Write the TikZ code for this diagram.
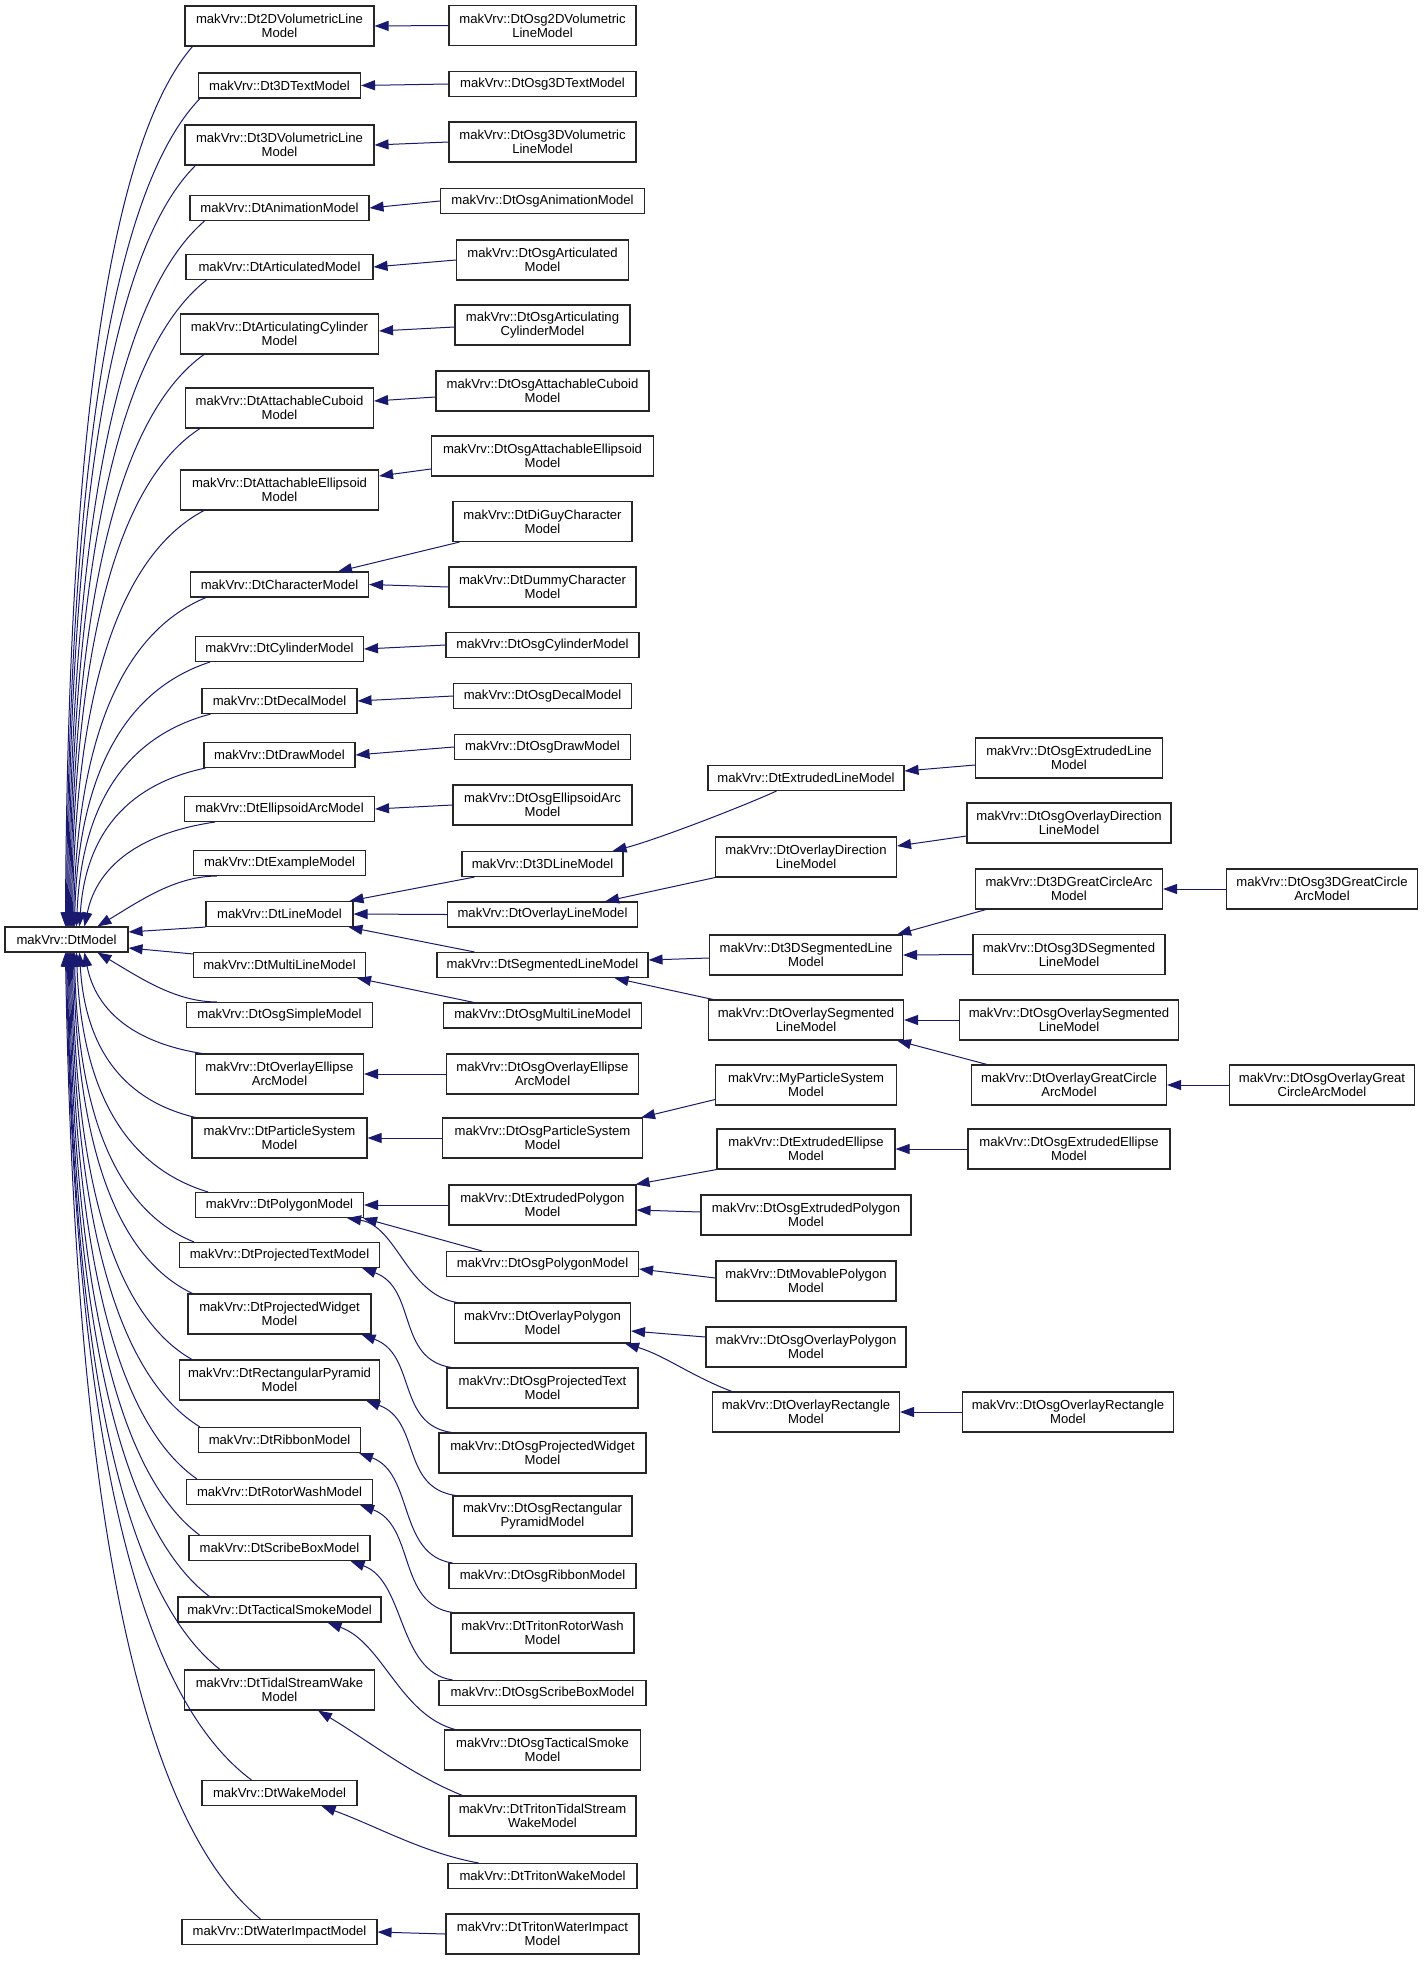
\documentclass[tikz,border=0pt]{standalone}
\usepackage{fontspec}
\setmainfont{Liberation Sans}
\usetikzlibrary{arrows.meta,calc}
\definecolor{edgeblue}{HTML}{191970}
\tikzset{
  cls/.style={draw=black!85, line width=1.1pt, fill=white, inner sep=0pt, align=center,
    font=\fontsize{13.1}{14}\selectfont},
  inh/.style={draw=edgeblue, line width=1pt, {Triangle[length=14pt,width=10pt]}-},
}
\newcommand{\dxnode}[6]{\node[cls, minimum width=#4pt, minimum height=#5pt] (#1) at (#2,#3) {#6};}
\newcommand{\dmlink}[6]{\draw[inh] let \p1=#1, \p2=#2 in (\p1) .. controls ($(\p1)+({#3*(\x2-\x1)},{#4*(\y2-\y1)})$) and ($(\p2)+({-#5*(\x2-\x1)},{-#6*(\y2-\y1)})$) .. (\p2);}
\begin{document}
\begin{tikzpicture}[x=1pt,y=-1pt]
\fill[white] (0,0) rectangle (1424,1961);
\useasboundingbox (0,0) rectangle (1424,1961);
% base
\dxnode{base}{66.5}{939.5}{123}{25}{makVrv::DtModel}
% column 2
\dxnode{c2dvol}{279.5}{26}{189}{40}{makVrv::Dt2DVolumetricLine\\Model}
\dxnode{c3dtext}{279.5}{85.5}{162}{25}{makVrv::Dt3DTextModel}
\dxnode{c3dvol}{279.5}{145}{189}{40}{makVrv::Dt3DVolumetricLine\\Model}
\dxnode{canim}{279.5}{208}{179}{25}{makVrv::DtAnimationModel}
\dxnode{cartd}{279.5}{267}{187}{25}{makVrv::DtArticulatedModel}
\dxnode{cartcyl}{279.5}{334}{198}{40}{makVrv::DtArticulatingCylinder\\Model}
\dxnode{cattcub}{279.5}{408}{188}{40}{makVrv::DtAttachableCuboid\\Model}
\dxnode{cattell}{279.5}{490}{198}{40}{makVrv::DtAttachableEllipsoid\\Model}
\dxnode{cchar}{279.5}{584.5}{178}{25}{makVrv::DtCharacterModel}
\dxnode{ccyl}{279.5}{649}{168}{25}{makVrv::DtCylinderModel}
\dxnode{cdecal}{279.5}{701}{155}{25}{makVrv::DtDecalModel}
\dxnode{cdraw}{279.5}{755}{151}{25}{makVrv::DtDrawModel}
\dxnode{cellarc}{279.5}{809}{190}{25}{makVrv::DtEllipsoidArcModel}
\dxnode{cexample}{279.5}{863}{172}{25}{makVrv::DtExampleModel}
\dxnode{cline}{279.5}{914}{147}{25}{makVrv::DtLineModel}
\dxnode{cmulti}{279.5}{965}{172}{25}{makVrv::DtMultiLineModel}
\dxnode{cosgsimple}{279.5}{1015}{186}{25}{makVrv::DtOsgSimpleModel}
\dxnode{covellarc}{279.5}{1074}{168}{40}{makVrv::DtOverlayEllipse\\ArcModel}
\dxnode{cpart}{279.5}{1138}{175}{40}{makVrv::DtParticleSystem\\Model}
\dxnode{cpoly}{279.5}{1205}{168}{25}{makVrv::DtPolygonModel}
\dxnode{cprojtext}{279.5}{1255}{200}{25}{makVrv::DtProjectedTextModel}
\dxnode{cprojwid}{279.5}{1314}{183}{40}{makVrv::DtProjectedWidget\\Model}
\dxnode{crectpyr}{279.5}{1380}{200}{40}{makVrv::DtRectangularPyramid\\Model}
\dxnode{cribbon}{279.5}{1440}{162}{25}{makVrv::DtRibbonModel}
\dxnode{crotor}{279.5}{1492}{186}{25}{makVrv::DtRotorWashModel}
\dxnode{cscribe}{279.5}{1548}{181}{25}{makVrv::DtScribeBoxModel}
\dxnode{ctact}{279.5}{1609.5}{203}{25}{makVrv::DtTacticalSmokeModel}
\dxnode{ctidal}{279.5}{1690}{190}{40}{makVrv::DtTidalStreamWake\\Model}
\dxnode{cwake}{279.5}{1793}{155}{25}{makVrv::DtWakeModel}
\dxnode{cwater}{279.5}{1932}{195}{25}{makVrv::DtWaterImpactModel}
% column 3
\dxnode{d2dvol}{542.5}{25.5}{187}{40}{makVrv::DtOsg2DVolumetric\\LineModel}
\dxnode{d3dtext}{542.5}{84}{187}{25}{makVrv::DtOsg3DTextModel}
\dxnode{d3dvol}{542.5}{142}{187}{40}{makVrv::DtOsg3DVolumetric\\LineModel}
\dxnode{danim}{542.5}{201}{204}{25}{makVrv::DtOsgAnimationModel}
\dxnode{dartd}{542.5}{260}{172}{40}{makVrv::DtOsgArticulated\\Model}
\dxnode{dartcyl}{542.5}{325}{175}{40}{makVrv::DtOsgArticulating\\CylinderModel}
\dxnode{dattcub}{542.5}{391}{213}{40}{makVrv::DtOsgAttachableCuboid\\Model}
\dxnode{dattell}{542.5}{456}{222}{40}{makVrv::DtOsgAttachableEllipsoid\\Model}
\dxnode{ddiguy}{542.5}{521.5}{179}{40}{makVrv::DtDiGuyCharacter\\Model}
\dxnode{ddummy}{542.5}{587}{187}{40}{makVrv::DtDummyCharacter\\Model}
\dxnode{dcyl}{542.5}{645}{193}{25}{makVrv::DtOsgCylinderModel}
\dxnode{ddecal}{542.5}{696}{178}{25}{makVrv::DtOsgDecalModel}
\dxnode{ddraw}{542.5}{747}{176}{25}{makVrv::DtOsgDrawModel}
\dxnode{dellarc}{542.5}{805}{179}{40}{makVrv::DtOsgEllipsoidArc\\Model}
\dxnode{d3dline}{542.5}{864}{161}{25}{makVrv::Dt3DLineModel}
\dxnode{dovline}{542.5}{914.5}{190}{25}{makVrv::DtOverlayLineModel}
\dxnode{dsegline}{542.5}{965}{211}{25}{makVrv::DtSegmentedLineModel}
\dxnode{dosgmulti}{542.5}{1015.5}{198}{25}{makVrv::DtOsgMultiLineModel}
\dxnode{dosgovellarc}{542.5}{1074}{192}{40}{makVrv::DtOsgOverlayEllipse\\ArcModel}
\dxnode{dosgpart}{542.5}{1138}{200}{40}{makVrv::DtOsgParticleSystem\\Model}
\dxnode{dextpoly}{542.5}{1205}{187}{40}{makVrv::DtExtrudedPolygon\\Model}
\dxnode{dosgpoly}{542.5}{1264}{192}{25}{makVrv::DtOsgPolygonModel}
\dxnode{dovpoly}{542.5}{1323}{176}{40}{makVrv::DtOverlayPolygon\\Model}
\dxnode{dosgprojtext}{542.5}{1388}{191}{40}{makVrv::DtOsgProjectedText\\Model}
\dxnode{dosgprojwid}{542.5}{1453}{207}{40}{makVrv::DtOsgProjectedWidget\\Model}
\dxnode{dosgrectpyr}{542.5}{1516}{179}{40}{makVrv::DtOsgRectangular\\PyramidModel}
\dxnode{dosgribbon}{542.5}{1576}{187}{25}{makVrv::DtOsgRibbonModel}
\dxnode{dtritonrotor}{542.5}{1633}{183}{40}{makVrv::DtTritonRotorWash\\Model}
\dxnode{dosgscribe}{542.5}{1693}{207}{25}{makVrv::DtOsgScribeBoxModel}
\dxnode{dosgtact}{542.5}{1750}{196}{40}{makVrv::DtOsgTacticalSmoke\\Model}
\dxnode{dtritontidal}{542.5}{1816}{187}{40}{makVrv::DtTritonTidalStream\\WakeModel}
\dxnode{dtritonwake}{542.5}{1876}{189}{25}{makVrv::DtTritonWakeModel}
\dxnode{dtritonwater}{542.5}{1934}{193}{40}{makVrv::DtTritonWaterImpact\\Model}
% column 4
\dxnode{eextline}{806}{778}{196}{25}{makVrv::DtExtrudedLineModel}
\dxnode{eovdir}{806}{857}{181}{40}{makVrv::DtOverlayDirection\\LineModel}
\dxnode{e3dseg}{806}{955}{193}{40}{makVrv::Dt3DSegmentedLine\\Model}
\dxnode{eovseg}{806}{1020}{195}{40}{makVrv::DtOverlaySegmented\\LineModel}
\dxnode{emypart}{806}{1085}{181}{40}{makVrv::MyParticleSystem\\Model}
\dxnode{eextell}{806}{1149}{178}{40}{makVrv::DtExtrudedEllipse\\Model}
\dxnode{eosgextpoly}{806}{1215}{210}{40}{makVrv::DtOsgExtrudedPolygon\\Model}
\dxnode{emovpoly}{806}{1281}{180}{40}{makVrv::DtMovablePolygon\\Model}
\dxnode{eosgovpoly}{806}{1347}{200}{40}{makVrv::DtOsgOverlayPolygon\\Model}
\dxnode{eovrect}{806}{1412}{187}{40}{makVrv::DtOverlayRectangle\\Model}
% column 5
\dxnode{fosgextline}{1069}{758}{187}{40}{makVrv::DtOsgExtrudedLine\\Model}
\dxnode{fosgovdir}{1069}{823}{204}{40}{makVrv::DtOsgOverlayDirection\\LineModel}
\dxnode{f3dgca}{1069}{889}{187}{40}{makVrv::Dt3DGreatCircleArc\\Model}
\dxnode{fosg3dseg}{1069}{954.5}{192}{40}{makVrv::DtOsg3DSegmented\\LineModel}
\dxnode{fosgovseg}{1069}{1020}{219}{40}{makVrv::DtOsgOverlaySegmented\\LineModel}
\dxnode{fovgca}{1069}{1085}{195}{40}{makVrv::DtOverlayGreatCircle\\ArcModel}
\dxnode{fosgextell}{1069}{1149}{202}{40}{makVrv::DtOsgExtrudedEllipse\\Model}
\dxnode{fosgovrect}{1068}{1412}{211}{40}{makVrv::DtOsgOverlayRectangle\\Model}
% column 6
\dxnode{gosg3dgca}{1322}{889}{191}{40}{makVrv::DtOsg3DGreatCircle\\ArcModel}
\dxnode{gosgovgca}{1322}{1085}{185}{40}{makVrv::DtOsgOverlayGreat\\CircleArcModel}

% ---------- edges to DtModel (upper) ----------
\dmlink{([xshift=61pt]base.north west)}{([xshift=8pt]c2dvol.south west)}{0.02}{0.6}{0.6}{0.1}
\dmlink{([xshift=62pt]base.north west)}{([xshift=2pt]c3dtext.south west)}{0.02}{0.6}{0.6}{0.1}
\dmlink{([xshift=63pt]base.north west)}{([xshift=11pt]c3dvol.south west)}{0.02}{0.6}{0.6}{0.1}
\dmlink{([xshift=64pt]base.north west)}{([xshift=15pt]canim.south west)}{0.02}{0.6}{0.6}{0.1}
\dmlink{([xshift=65pt]base.north west)}{([xshift=21pt]cartd.south west)}{0.02}{0.6}{0.6}{0.1}
\dmlink{([xshift=66pt]base.north west)}{([xshift=24pt]cartcyl.south west)}{0.02}{0.6}{0.6}{0.1}
\dmlink{([xshift=67pt]base.north west)}{([xshift=15pt]cattcub.south west)}{0.02}{0.6}{0.6}{0.1}
\dmlink{([xshift=68pt]base.north west)}{([xshift=24pt]cattell.south west)}{0.02}{0.6}{0.6}{0.1}
\dmlink{([xshift=69pt]base.north west)}{([xshift=16pt]cchar.south west)}{0.03}{0.6}{0.6}{0.1}
\dmlink{([xshift=70pt]base.north west)}{([xshift=15pt]ccyl.south west)}{0.03}{0.6}{0.6}{0.1}
\dmlink{([xshift=72pt]base.north west)}{([xshift=9pt]cdecal.south west)}{0.04}{0.6}{0.6}{0.1}
\dmlink{([xshift=75pt]base.north west)}{([xshift=2pt]cdraw.south west)}{0.05}{0.6}{0.6}{0.1}
\dmlink{([xshift=80pt]base.north west)}{([xshift=31pt]cellarc.south west)}{0.1}{0.6}{0.55}{0.1}
\dmlink{([xshift=93pt]base.north west)}{([xshift=24pt]cexample.south west)}{0.35}{0.5}{0.35}{0}
\draw[inh] ([yshift=7.5pt]base.east) -- (cline.south west);
\draw[inh] ([yshift=-8.5pt]base.east) -- ([yshift=-2pt]cmulti.north west);
% ---------- edges to DtModel (lower) ----------
\dmlink{([xshift=93pt]base.south west)}{([xshift=31pt]cosgsimple.north west)}{0.35}{0.5}{0.35}{0}
\dmlink{([xshift=80pt]base.south west)}{([xshift=7pt]covellarc.north west)}{0.1}{0.6}{0.55}{0.1}
\dmlink{([xshift=75pt]base.south west)}{([xshift=4pt]cpart.north west)}{0.05}{0.6}{0.6}{0.1}
\dmlink{([xshift=72pt]base.south west)}{([xshift=13pt]cpoly.north west)}{0.04}{0.6}{0.6}{0.1}
\dmlink{([xshift=70pt]base.south west)}{([xshift=15pt]cprojtext.north west)}{0.03}{0.6}{0.6}{0.1}
\dmlink{([xshift=69pt]base.south west)}{([xshift=5pt]cprojwid.north west)}{0.03}{0.6}{0.6}{0.1}
\dmlink{([xshift=68pt]base.south west)}{([xshift=13pt]crectpyr.north west)}{0.02}{0.6}{0.6}{0.1}
\dmlink{([xshift=67pt]base.south west)}{([xshift=2pt]cribbon.north west)}{0.02}{0.6}{0.6}{0.1}
\dmlink{([xshift=66pt]base.south west)}{([xshift=11pt]crotor.north west)}{0.02}{0.6}{0.6}{0.1}
\dmlink{([xshift=65pt]base.south west)}{([xshift=11pt]cscribe.north west)}{0.02}{0.6}{0.6}{0.1}
\dmlink{([xshift=64pt]base.south west)}{([xshift=32pt]ctact.north west)}{0.02}{0.6}{0.6}{0.1}
\dmlink{([xshift=63pt]base.south west)}{([xshift=36pt]ctidal.north west)}{0.03}{0.6}{0.6}{0.1}
\dmlink{([xshift=62pt]base.south west)}{([xshift=50pt]cwake.north west)}{0.04}{0.6}{0.6}{0.1}
\dmlink{([xshift=61pt]base.south west)}{([xshift=79pt]cwater.north west)}{0.05}{0.6}{0.6}{0.1}

% ---------- column 3 -> column 2 ----------
\draw[inh] (c2dvol.east) -- (d2dvol.west);
\draw[inh] (c3dtext.east) -- (d3dtext.west);
\draw[inh] (c3dvol.east) -- (d3dvol.west);
\draw[inh] (canim.east) -- (danim.west);
\draw[inh] (cartd.east) -- (dartd.west);
\draw[inh] ([yshift=3pt]cartcyl.east) -- ([yshift=-2pt]dartcyl.west);
\draw[inh] ([yshift=7pt]cattcub.east) -- ([yshift=-6pt]dattcub.west);
\draw[inh] ([yshift=14pt]cattell.east) -- ([yshift=-13pt]dattell.west);
\draw[inh] ([xshift=-31pt]cchar.north east) -- ([xshift=7pt]ddiguy.south west);
\draw[inh] (cchar.east) -- (ddummy.west);
\draw[inh] (ccyl.east) -- (dcyl.west);
\draw[inh] (cdecal.east) -- (ddecal.west);
\draw[inh] (cdraw.east) -- (ddraw.west);
\draw[inh] (cellarc.east) -- (dellarc.west);
\draw[inh] ([xshift=-4pt]cline.north east) -- ([xshift=13pt]d3dline.south west);
\draw[inh] (cline.east) -- (dovline.west);
\draw[inh] ([xshift=-5pt]cline.south east) -- ([xshift=38pt]dsegline.north west);
\draw[inh] ([xshift=-9pt]cmulti.south east) -- ([xshift=31pt]dosgmulti.north west);
\draw[inh] (covellarc.east) -- (dosgovellarc.west);
\draw[inh] (cpart.east) -- (dosgpart.west);
\draw[inh] (cpoly.east) -- (dextpoly.west);
\draw[inh] ([xshift=-1pt]cpoly.south east) -- ([xshift=36pt]dosgpoly.north west);
\draw[inh] ([xshift=-17pt]cpoly.south east) .. controls +(50,8) and +(-50,-8) .. ([xshift=3pt]dovpoly.north west);
\draw[inh] ([xshift=-18pt]cprojtext.south east) .. controls +(55,20) and +(-55,-8) .. ([xshift=5pt]dosgprojtext.north west);
\draw[inh] ([xshift=-10pt]cprojwid.south east) .. controls +(55,20) and +(-55,-8) .. ([xshift=13pt]dosgprojwid.north west);
\draw[inh] ([xshift=-14pt]crectpyr.south east) .. controls +(55,20) and +(-55,-8) .. ([xshift=3pt]dosgrectpyr.north west);
\draw[inh] ([xshift=-2pt]cribbon.south east) .. controls +(55,20) and +(-55,-8) .. ([xshift=4pt]dosgribbon.north west);
\draw[inh] ([xshift=-13pt]crotor.south east) .. controls +(55,20) and +(-55,-8) .. ([xshift=2pt]dtritonrotor.north west);
\draw[inh] ([xshift=-20pt]cscribe.south east) .. controls +(55,20) and +(-55,-8) .. ([xshift=14pt]dosgscribe.north west);
\draw[inh] ([xshift=-54pt]ctact.south east) .. controls +(55,20) and +(-55,-15) .. ([xshift=11pt]dosgtact.north west);
\draw[inh] ([xshift=-57pt]ctidal.south east) .. controls +(50,30) and +(-50,-20) .. ([xshift=14pt]dtritontidal.north west);
\draw[inh] ([xshift=-36pt]cwake.south east) .. controls +(55,20) and +(-55,-10) .. ([xshift=31pt]dtritonwake.north west);
\draw[inh] (cwater.east) -- (dtritonwater.west);

% ---------- column 4 -> column 3 ----------
\draw[inh] ([xshift=-11pt]d3dline.north east) .. controls +(40,-10) and +(-40,18) .. ([xshift=69pt]eextline.south west);
\draw[inh] ([xshift=-33pt]dovline.north east) -- (eovdir.south west);
\draw[inh] ([yshift=5pt]dsegline.east) -- ([yshift=-3pt]e3dseg.west);
\draw[inh] ([xshift=-34pt]dsegline.south east) -- ([xshift=5pt]eovseg.north west);
\draw[inh] ([xshift=-2pt]dosgpart.north east) -- ([yshift=6pt]emypart.south west);
\draw[inh] ([xshift=-1pt]dextpoly.north east) -- (eextell.south west);
\draw[inh] ([yshift=-5pt]dextpoly.east) -- ([yshift=3pt]eosgextpoly.west);
\draw[inh] ([yshift=-5pt]dosgpoly.east) -- ([yshift=3pt]emovpoly.west);
\draw[inh] ([yshift=-8pt]dovpoly.east) -- ([yshift=10pt]eosgovpoly.west);
\draw[inh] ([xshift=-6pt]dovpoly.south east) .. controls +(40,12) and +(-40,-15) .. ([xshift=20pt]eovrect.north west);

% ---------- column 5 -> column 4 ----------
\draw[inh] ([yshift=7pt]eextline.east) -- ([yshift=-7pt]fosgextline.west);
\draw[inh] ([yshift=11pt]eovdir.east) -- ([yshift=-13pt]fosgovdir.west);
\draw[inh] ([xshift=-6pt]e3dseg.north east) -- ([xshift=11pt]f3dgca.south west);
\draw[inh] (e3dseg.east) -- (fosg3dseg.west);
\draw[inh] (eovseg.east) -- (fosgovseg.west);
\draw[inh] ([xshift=-7pt]eovseg.south east) -- ([xshift=16pt]fovgca.north west);
\draw[inh] (eextell.east) -- (fosgextell.west);
\draw[inh] (eovrect.east) -- (fosgovrect.west);

% ---------- column 6 -> column 5 ----------
\draw[inh] (f3dgca.east) -- (gosg3dgca.west);
\draw[inh] (fovgca.east) -- (gosgovgca.west);
\end{tikzpicture}
\end{document}
